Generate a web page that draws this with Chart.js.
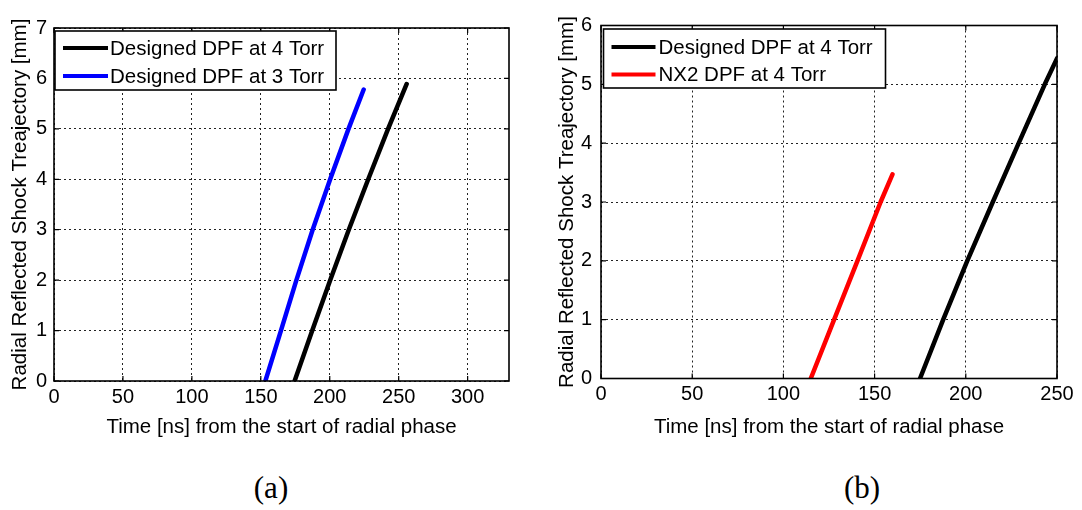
<!DOCTYPE html>
<html>
<head>
<meta charset="utf-8">
<script src="https://cdn.jsdelivr.net/npm/chart.js@4.4.1/dist/chart.umd.min.js"></script>
<style>
  html, body { margin: 0; padding: 0; background: #fff; }
  body { width: 1082px; height: 510px; position: relative; overflow: hidden; }
  .box { position: absolute; top: 0; width: 541px; height: 440px; }
  #boxA { left: 0; }
  #boxB { left: 541px; }
  .cap { position: absolute; top: 470px; font-family: "Liberation Serif", "Times New Roman", serif; font-size: 31px; color: #000; transform: translateX(-50%); }
</style>
</head>
<body>
<div class="box" id="boxA"><canvas id="chartA" width="541" height="440"></canvas></div>
<div class="box" id="boxB"><canvas id="chartB" width="541" height="440"></canvas></div>
<div class="cap" style="left:271px">(a)</div>
<div class="cap" style="left:862px">(b)</div>
<script>
// ---------- data ----------
const xTitle = "Time [ns] from the start of radial phase";
const yTitle = "Radial Reflected Shock Treajectory [mm]";

// Panel (a)
const aLabels = ["Designed DPF at 4 Torr", "Designed DPF at 3 Torr"];
const a4TorrX = [174.5, 187.3, 200.3, 213.8, 227.9, 242.3, 255.8];
const a4TorrY = [0, 1, 2, 3, 4, 5, 5.89];
const a3TorrX = [153.3, 164.6, 175.8, 187.6, 200.3, 213.6, 224.6];
const a3TorrY = [0, 1, 2, 3, 4, 5, 5.78];
const aXTicks = [0, 50, 100, 150, 200, 250, 300];
const aYTicks = [0, 1, 2, 3, 4, 5, 6, 7];

// Panel (b)
const bLabels = ["Designed DPF at 4 Torr", "NX2 DPF at 4 Torr"];
const b4TorrX = [174.9, 187.6, 200.8, 214.8, 229.0, 243.3, 250.0];
const b4TorrY = [0, 1, 2, 3, 4, 5, 5.44];
const bNX2X = [115.0, 127.8, 140.6, 153.3, 159.8];
const bNX2Y = [0, 1, 2, 3, 3.47];
const bXTicks = [0, 50, 100, 150, 200, 250];
const bYTicks = [0, 1, 2, 3, 4, 5, 6];

// ---------- helpers ----------
const FONT = '"Liberation Sans", Arial, sans-serif';
function pts(xs, ys) { return xs.map((x, i) => ({ x: x, y: ys[i] })); }

const framePlugin = {
  id: 'matlabFrame',
  afterDatasetsDraw(chart, args, opts) {
    const ctx = chart.ctx, a = chart.chartArea;
    const xs = chart.scales.x, ys = chart.scales.y;
    ctx.save();
    ctx.strokeStyle = '#000';
    ctx.lineWidth = 1.6;
    ctx.strokeRect(a.left, a.top, a.right - a.left, a.bottom - a.top);
    ctx.lineWidth = 1.2;
    const L = 5;
    ctx.beginPath();
    xs.ticks.forEach(t => {
      const p = xs.getPixelForValue(t.value);
      ctx.moveTo(p, a.bottom); ctx.lineTo(p, a.bottom - L);
      ctx.moveTo(p, a.top); ctx.lineTo(p, a.top + L);
    });
    ys.ticks.forEach(t => {
      const p = ys.getPixelForValue(t.value);
      ctx.moveTo(a.left, p); ctx.lineTo(a.left + L, p);
      ctx.moveTo(a.right, p); ctx.lineTo(a.right - L, p);
    });
    ctx.stroke();

    // legend box
    const bx = a.left + opts.dx, by = a.top + opts.dy;
    ctx.fillStyle = '#fff';
    ctx.fillRect(bx, by, opts.w, opts.h);
    ctx.lineWidth = 1.6;
    ctx.strokeStyle = '#000';
    ctx.strokeRect(bx, by, opts.w, opts.h);
    ctx.font = '20.5px ' + FONT;
    ctx.textBaseline = 'middle';
    ctx.textAlign = 'left';
    chart.data.datasets.forEach((ds, i) => {
      const yy = by + opts.row0 + i * opts.rowH;
      ctx.strokeStyle = ds.borderColor;
      ctx.lineWidth = 4;
      ctx.beginPath();
      ctx.moveTo(bx + opts.lx0, yy);
      ctx.lineTo(bx + opts.lx1, yy);
      ctx.stroke();
      ctx.fillStyle = '#000';
      ctx.fillText(ds.label, bx + opts.tx, yy + 1);
    });
    ctx.restore();
  }
};

function makeChart(id, datasets, xMax, yMax, xTicks, yTicks, lay) {
  return new Chart(document.getElementById(id), {
    type: 'scatter',
    data: { datasets: datasets },
    plugins: [framePlugin],
    options: {
      responsive: false,
      animation: false,
      events: [],
      layout: { padding: { top: lay.top, right: lay.right, left: 0, bottom: 0 } },
      plugins: {
        legend: { display: false },
        tooltip: { enabled: false },
        matlabFrame: lay.legend
      },
      elements: { point: { radius: 0 }, line: { tension: 0 } },
      scales: {
        x: {
          type: 'linear', min: 0, max: xMax,
          afterBuildTicks: s => { s.ticks = xTicks.map(v => ({ value: v })); },
          afterFit: s => { s.height = lay.xh; },
          grid: { color: '#222', lineWidth: 1, drawTicks: false },
          border: { display: false, dash: [2, 3] },
          ticks: { color: '#000', font: { family: FONT, size: 20 }, padding: 4, maxRotation: 0, autoSkip: false },
          title: { display: true, text: xTitle, color: '#000', font: { family: FONT, size: 20.5 }, padding: { top: 0, bottom: 0 } }
        },
        y: {
          type: 'linear', min: 0, max: yMax,
          afterBuildTicks: s => { s.ticks = yTicks.map(v => ({ value: v })); },
          afterFit: s => { s.width = lay.yw; },
          grid: { color: '#222', lineWidth: 1, drawTicks: false },
          border: { display: false, dash: [2, 3] },
          ticks: { color: '#000', font: { family: FONT, size: 20 }, padding: lay.ypad },
          title: { display: true, text: yTitle, color: '#000', font: { family: FONT, size: 20.5 }, padding: { top: lay.ytp, bottom: 0 } }
        }
      }
    }
  });
}

makeChart('chartA', [
  { label: aLabels[0], data: pts(a4TorrX, a4TorrY), showLine: true, borderColor: '#000000', borderWidth: 4.5, borderCapStyle: 'round', borderJoinStyle: 'round' },
  { label: aLabels[1], data: pts(a3TorrX, a3TorrY), showLine: true, borderColor: '#0000ff', borderWidth: 4.5, borderCapStyle: 'round', borderJoinStyle: 'round' }
], 330, 7, aXTicks, aYTicks, {
  top: 28, right: 32, xh: 59, yw: 54, ypad: 7, ytp: 8,
  legend: { dx: 1, dy: 3, w: 281, h: 59, row0: 17, rowH: 28, lx0: 8, lx1: 53, tx: 55 }
});

makeChart('chartB', [
  { label: bLabels[0], data: pts(b4TorrX, b4TorrY), showLine: true, borderColor: '#000000', borderWidth: 4.5, borderCapStyle: 'round', borderJoinStyle: 'round' },
  { label: bLabels[1], data: pts(bNX2X, bNX2Y), showLine: true, borderColor: '#ff0000', borderWidth: 4.5, borderCapStyle: 'round', borderJoinStyle: 'round' }
], 250, 6, bXTicks, bYTicks, {
  top: 25.5, right: 25, xh: 61.5, yw: 60, ypad: 9, ytp: 14,
  legend: { dx: 2.5, dy: 3.5, w: 282, h: 59, row0: 18, rowH: 27.5, lx0: 8, lx1: 52, tx: 55 }
});
</script>
</body>
</html>
